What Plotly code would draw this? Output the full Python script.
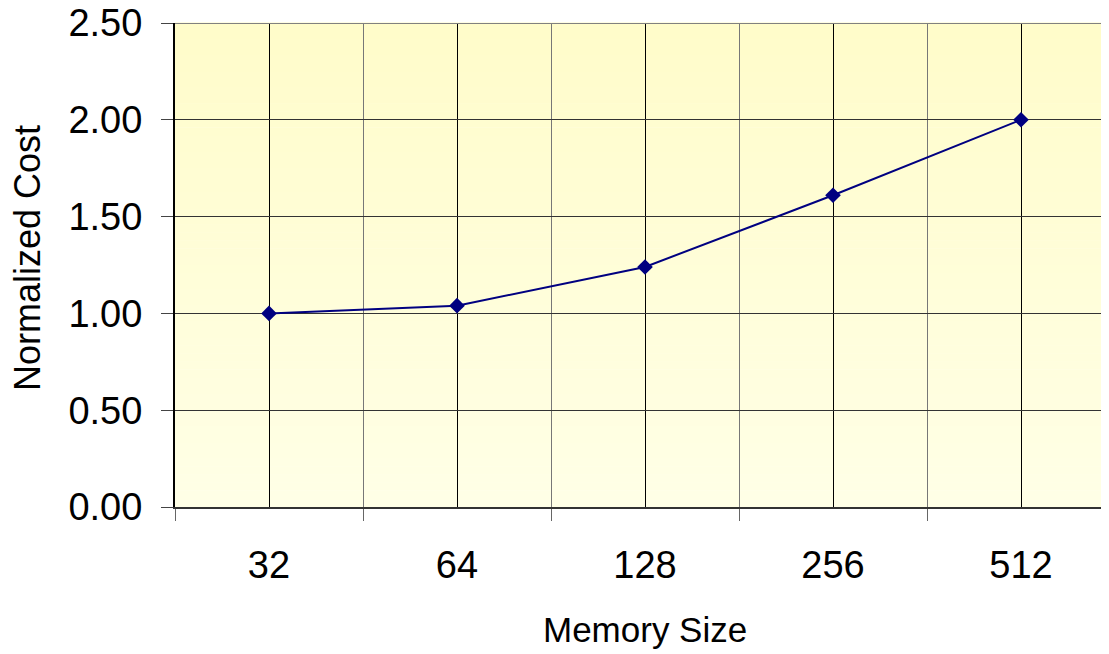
import plotly.graph_objects as go

categories = ["32", "64", "128", "256", "512"]
cost = [1.00, 1.04, 1.24, 1.61, 2.00]
y_ticks = [0.0, 0.5, 1.0, 1.5, 2.0, 2.5]
y_ticktext = ["0.00", "0.50", "1.00", "1.50", "2.00", "2.50"]

xpos = list(range(len(categories)))
bounds = [i - 0.5 for i in range(len(categories) + 1)]

fig = go.Figure()
fig.add_trace(go.Scatter(
    x=xpos, y=cost, mode="lines+markers",
    line=dict(color="#000080", width=2),
    marker=dict(symbol="diamond", size=12, color="#000080"),
    showlegend=False, cliponaxis=False,
))

# gradient background
shapes = []
n = 60
top = (255, 252, 202)
bot = (255, 255, 230)
for i in range(n):
    t = i / (n - 1)
    c = tuple(round(bot[k] + (top[k] - bot[k]) * t) for k in range(3))
    shapes.append(dict(type="rect", xref="x domain", yref="y domain",
                       x0=0, x1=1, y0=i / n, y1=(i + 1) / n + 0.001,
                       fillcolor="rgb(%d,%d,%d)" % c, line=dict(width=0),
                       layer="below"))
# top gridline (edge of range)
shapes.append(dict(type="line", xref="x domain", yref="y", x0=0, x1=1,
                   y0=y_ticks[-1], y1=y_ticks[-1],
                   line=dict(color="#808080", width=2), layer="above"))

OFF = 8  # default page body margin
W, H = 1109 - OFF, 654 - OFF
L, T = 175 - OFF, 23 - OFF
B = H - (507 - OFF)
pw, ph = W - L, H - T - B


def px_x(x):
    return (x - OFF - L) / pw


def px_y(y):
    return (T + ph - (y - OFF)) / ph


fig.update_layout(
    width=W, height=H,
    margin=dict(l=L, r=0, t=T, b=B, autoexpand=False),
    paper_bgcolor="white", plot_bgcolor="rgba(0,0,0,0)",
    shapes=shapes,
    font=dict(family="Liberation Sans, Arial, sans-serif", size=38, color="black"),
    annotations=[
        dict(text="Normalized Cost", textangle=-90, showarrow=False,
             xref="paper", yref="paper", x=px_x(27), y=px_y(258),
             xanchor="center", yanchor="middle", font=dict(size=36)),
        dict(text="Memory Size", showarrow=False,
             xref="paper", yref="paper", x=px_x(645), y=px_y(630),
             xanchor="center", yanchor="middle", font=dict(size=35)),
    ],
)
fig.update_xaxes(
    range=[-0.5, 4.5 - 6 / 188], automargin=False,
    tickmode="array", tickvals=xpos, ticktext=categories,
    ticks="", showgrid=True, gridcolor="#000000", gridwidth=1,
    minor=dict(tickmode="array", tickvals=bounds, ticks="outside", ticklen=12,
               tickcolor="#666666", showgrid=True, gridcolor="#777777", gridwidth=1),
    showline=True, linecolor="#333333", linewidth=2,
    zeroline=False, ticklabeloverflow="allow",
    ticklabelstandoff=23,
)
fig.update_yaxes(
    range=[0, 2.5], automargin=False,
    tickmode="array", tickvals=y_ticks, ticktext=y_ticktext,
    ticks="outside", ticklen=12, tickcolor="#444444",
    showgrid=True, gridcolor="#333333", gridwidth=1,
    showline=True, linecolor="#000000", linewidth=2,
    zeroline=False, ticklabeloverflow="allow",
    ticklabelstandoff=11,
)
fig.write_html("out.html")
